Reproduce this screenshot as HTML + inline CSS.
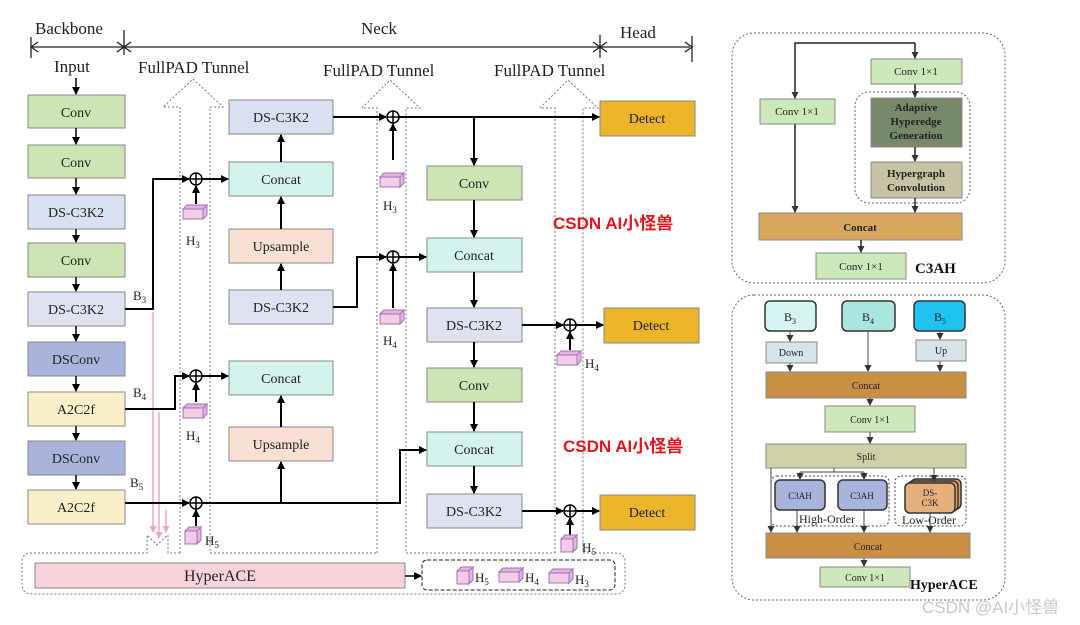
<!DOCTYPE html>
<html><head><meta charset="utf-8"><style>
html,body{margin:0;padding:0;background:#fff;}
svg{display:block;}
text{font-family:"Liberation Serif","Noto Serif CJK SC",serif;}
</style></head><body>
<svg width="1080" height="625" viewBox="0 0 1080 625" xmlns="http://www.w3.org/2000/svg">
<defs>
<marker id="a" markerWidth="8" markerHeight="8" refX="7" refY="4" orient="auto" markerUnits="userSpaceOnUse"><path d="M0,0 L8,4 L0,8 z" fill="#000"/></marker>
<marker id="g" markerWidth="7" markerHeight="7" refX="6" refY="3.5" orient="auto" markerUnits="userSpaceOnUse"><path d="M0,0 L7,3.5 L0,7 z" fill="#333"/></marker>
<marker id="p" markerWidth="7" markerHeight="7" refX="6" refY="3.5" orient="auto" markerUnits="userSpaceOnUse"><path d="M0,0 L7,3.5 L0,7 z" fill="#f4a6b8"/></marker>
<g id="cube"><rect x="0" y="4" width="20" height="10" fill="#f3cde6" stroke="#a070c0"/><path d="M0,4 L4,0 L24,0 L20,4 z M20,4 L24,0 L24,10 L20,14 z" fill="#e3b5dd" stroke="#a070c0"/></g>
<g id="cubes"><rect x="0" y="4" width="12" height="13" fill="#f3cde6" stroke="#a070c0"/><path d="M0,4 L4,0 L16,0 L12,4 z M12,4 L16,0 L16,13 L12,17 z" fill="#e3b5dd" stroke="#a070c0"/></g>
</defs>

<g font-size="17" fill="#222">
<text x="35" y="34">Backbone</text>
<text x="361" y="34">Neck</text>
<text x="620" y="38">Head</text>
<text x="54" y="72">Input</text>
<text x="138" y="73">FullPAD Tunnel</text>
<text x="323" y="76">FullPAD Tunnel</text>
<text x="494" y="76">FullPAD Tunnel</text>
</g>
<g stroke="#222" stroke-width="1.3" fill="none">
<line x1="31" y1="37" x2="31" y2="58"/><line x1="124" y1="30" x2="124" y2="55"/>
<line x1="31" y1="47" x2="690" y2="47"/>
<line x1="600" y1="35" x2="600" y2="58"/><line x1="692" y1="36" x2="692" y2="62"/>
<path d="M38,42 L31,47 L38,52 M117,42 L124,47 L117,52 M131,42 L124,47 L131,52 M593,42 L600,47 L593,52 M607,42 L600,47 L607,52 M685,42 L692,47 L685,52"/>
</g>

<g stroke="#777" stroke-width="1" stroke-dasharray="2,2" fill="none">
<path d="M180,553 L180,107 L163,107 L193,79 L223,107 L210,107 L210,553"/>
<path d="M377,553 L377,108 L362,108 L390,80 L420,108 L406,108 L406,553"/>
<path d="M555,553 L555,108 L540,108 L568,80 L598,108 L583,108 L583,553"/>
<path d="M210,553 L377,553 M406,553 L555,553"/>
<path d="M583,553 L615,553 Q625,553 625,562 L625,584 Q625,594 615,594 L32,594 Q22,594 22,584 L22,562 Q22,553 32,553 L147,553 L147,535 L157,545 L168,535 L168,553 L180,553"/>
</g>

<g stroke="#f4a6b8" stroke-width="1.5" marker-end="url(#p)">
<line x1="153" y1="312" x2="153" y2="532"/><line x1="159" y1="412" x2="159" y2="538"/><line x1="166" y1="510" x2="166" y2="532"/>
</g>

<g stroke="#888" stroke-width="1" font-size="14" text-anchor="middle" fill="#222">
<rect x="28" y="95" width="97" height="33" fill="#cde4b4"/><text x="76" y="117" fill="#222" stroke="none">Conv</text>
<rect x="28" y="145" width="97" height="33" fill="#cde4b4"/><text x="76" y="167" stroke="none">Conv</text>
<rect x="28" y="195" width="97" height="34" fill="#d9e0f1"/><text x="76" y="217" stroke="none">DS-C3K2</text>
<rect x="28" y="243" width="97" height="34" fill="#cde4b4"/><text x="76" y="265" stroke="none">Conv</text>
<rect x="28" y="292" width="97" height="34" fill="#dfe2f0"/><text x="76" y="314" stroke="none">DS-C3K2</text>
<rect x="28" y="342" width="97" height="34" fill="#a9b4dc"/><text x="76" y="364" stroke="none">DSConv</text>
<rect x="28" y="392" width="97" height="34" fill="#fbefc9"/><text x="76" y="414" stroke="none">A2C2f</text>
<rect x="28" y="441" width="97" height="34" fill="#a9b4dc"/><text x="76" y="463" stroke="none">DSConv</text>
<rect x="28" y="490" width="97" height="34" fill="#fbefc9"/><text x="76" y="512" stroke="none">A2C2f</text>

<rect x="229" y="100" width="104" height="34" fill="#d9e0f1"/><text x="281" y="122" stroke="none">DS-C3K2</text>
<rect x="229" y="162" width="104" height="34" fill="#d3f3ec"/><text x="281" y="184" stroke="none">Concat</text>
<rect x="229" y="229" width="104" height="34" fill="#fadfd5"/><text x="281" y="251" stroke="none">Upsample</text>
<rect x="229" y="290" width="104" height="34" fill="#dfe2f0"/><text x="281" y="312" stroke="none">DS-C3K2</text>
<rect x="229" y="361" width="104" height="34" fill="#d3f3ec"/><text x="281" y="383" stroke="none">Concat</text>
<rect x="229" y="427" width="104" height="34" fill="#fadfd5"/><text x="281" y="449" stroke="none">Upsample</text>

<rect x="427" y="166" width="95" height="34" fill="#cde4b4"/><text x="474" y="188" stroke="none">Conv</text>
<rect x="427" y="238" width="95" height="34" fill="#d3f3ec"/><text x="474" y="260" stroke="none">Concat</text>
<rect x="427" y="308" width="95" height="34" fill="#dfe2f0"/><text x="474" y="330" stroke="none">DS-C3K2</text>
<rect x="427" y="368" width="95" height="34" fill="#cde4b4"/><text x="474" y="390" stroke="none">Conv</text>
<rect x="427" y="432" width="95" height="34" fill="#d3f3ec"/><text x="474" y="454" stroke="none">Concat</text>
<rect x="427" y="494" width="95" height="34" fill="#dfe2f0"/><text x="474" y="516" stroke="none">DS-C3K2</text>

<rect x="600" y="101" width="95" height="35" fill="#ecb52a"/><text x="647" y="123" stroke="none">Detect</text>
<rect x="604" y="308" width="95" height="35" fill="#ecb52a"/><text x="651" y="330" stroke="none">Detect</text>
<rect x="600" y="495" width="95" height="35" fill="#ecb52a"/><text x="647" y="517" stroke="none">Detect</text>

<rect x="35" y="563" width="370" height="25" fill="#f8d3dc"/><text x="220" y="581" font-size="16" stroke="none">HyperACE</text>
</g>
<rect x="422" y="560" width="193" height="30" rx="5" fill="none" stroke="#222" stroke-dasharray="4,2"/>

<g stroke="#000" stroke-width="2" fill="none">
<g marker-end="url(#a)" stroke-width="1.5">
<line x1="76" y1="78" x2="76" y2="94"/><line x1="76" y1="128" x2="76" y2="144"/><line x1="76" y1="178" x2="76" y2="194"/>
<line x1="76" y1="229" x2="76" y2="242"/><line x1="76" y1="277" x2="76" y2="291"/><line x1="76" y1="326" x2="76" y2="341"/>
<line x1="76" y1="376" x2="76" y2="391"/><line x1="76" y1="426" x2="76" y2="440"/><line x1="76" y1="475" x2="76" y2="489"/>
</g>
<path d="M125,309 L153,309 L153,179 L189,179" marker-end="url(#a)"/>
<line x1="202" y1="179" x2="228" y2="179" marker-end="url(#a)"/>
<line x1="196" y1="204" x2="196" y2="186" marker-end="url(#a)"/>
<line x1="281" y1="162" x2="281" y2="135" marker-end="url(#a)"/>
<line x1="281" y1="229" x2="281" y2="197" marker-end="url(#a)"/>
<line x1="281" y1="290" x2="281" y2="264" marker-end="url(#a)"/>
<path d="M333,307 L357,307 L357,257 L386,257" marker-end="url(#a)"/>
<line x1="399" y1="257" x2="426" y2="257" marker-end="url(#a)"/>
<line x1="393" y1="308" x2="393" y2="264" marker-end="url(#a)"/>
<line x1="333" y1="117" x2="386" y2="117" marker-end="url(#a)"/>
<line x1="399" y1="117" x2="599" y2="117" marker-end="url(#a)"/>
<line x1="393" y1="160" x2="393" y2="124" marker-end="url(#a)"/>
<line x1="474" y1="117" x2="474" y2="165" marker-end="url(#a)"/>
<line x1="474" y1="200" x2="474" y2="237" marker-end="url(#a)"/>
<line x1="474" y1="272" x2="474" y2="307" marker-end="url(#a)"/>
<line x1="474" y1="342" x2="474" y2="367" marker-end="url(#a)"/>
<line x1="474" y1="402" x2="474" y2="431" marker-end="url(#a)"/>
<line x1="474" y1="466" x2="474" y2="493" marker-end="url(#a)"/>
<line x1="522" y1="325" x2="563" y2="325" marker-end="url(#a)"/>
<line x1="576" y1="325" x2="603" y2="325" marker-end="url(#a)"/>
<line x1="570" y1="350" x2="570" y2="332" marker-end="url(#a)"/>
<path d="M125,409 L175,409 L175,376 L189,376" marker-end="url(#a)"/>
<line x1="202" y1="376" x2="228" y2="376" marker-end="url(#a)"/>
<line x1="196" y1="402" x2="196" y2="383" marker-end="url(#a)"/>
<line x1="281" y1="427" x2="281" y2="396" marker-end="url(#a)"/>
<line x1="125" y1="503" x2="189" y2="503" marker-end="url(#a)"/>
<path d="M202,503 L400,503 L400,450 L426,450" marker-end="url(#a)"/>
<line x1="281" y1="503" x2="281" y2="462" marker-end="url(#a)"/>
<line x1="196" y1="526" x2="196" y2="510" marker-end="url(#a)"/>
<line x1="522" y1="511" x2="563" y2="511" marker-end="url(#a)"/>
<line x1="576" y1="511" x2="599" y2="511" marker-end="url(#a)"/>
<line x1="570" y1="535" x2="570" y2="518" marker-end="url(#a)"/>
<line x1="405" y1="576" x2="421" y2="576" stroke-width="1.5" marker-end="url(#a)"/>
</g>
<g fill="#fff" stroke="#000" stroke-width="1.5">
<circle cx="196" cy="179" r="6"/><circle cx="393" cy="117" r="6"/><circle cx="393" cy="257" r="6"/>
<circle cx="196" cy="376" r="6"/><circle cx="570" cy="325" r="6"/><circle cx="196" cy="503" r="6"/><circle cx="570" cy="511" r="6"/>
</g>
<g stroke="#000" stroke-width="1.5">
<path d="M190,179 h12 M196,173 v12 M387,117 h12 M393,111 v12 M387,257 h12 M393,251 v12 M190,376 h12 M196,370 v12 M564,325 h12 M570,319 v12 M190,503 h12 M196,497 v12 M564,511 h12 M570,505 v12"/>
</g>

<use href="#cube" x="183" y="205"/><use href="#cube" x="380" y="173"/><use href="#cube" x="380" y="310"/>
<use href="#cube" x="183" y="404"/><use href="#cube" x="557" y="351"/>
<use href="#cubes" x="185" y="527"/><use href="#cubes" x="561" y="535"/>
<use href="#cubes" x="457" y="567"/><use href="#cube" x="499" y="568"/><use href="#cube" x="549" y="569"/>
<g font-size="13" fill="#222">
<text x="186" y="245">H<tspan font-size="9" dy="3">3</tspan></text>
<text x="383" y="210">H<tspan font-size="9" dy="3">3</tspan></text>
<text x="383" y="345">H<tspan font-size="9" dy="3">4</tspan></text>
<text x="186" y="440">H<tspan font-size="9" dy="3">4</tspan></text>
<text x="585" y="368">H<tspan font-size="9" dy="3">4</tspan></text>
<text x="205" y="545">H<tspan font-size="9" dy="3">5</tspan></text>
<text x="582" y="552">H<tspan font-size="9" dy="3">5</tspan></text>
<text x="475" y="582">H<tspan font-size="9" dy="3">5</tspan></text>
<text x="525" y="582">H<tspan font-size="9" dy="3">4</tspan></text>
<text x="575" y="584">H<tspan font-size="9" dy="3">3</tspan></text>
<text x="133" y="300">B<tspan font-size="9" dy="3">3</tspan></text>
<text x="133" y="397">B<tspan font-size="9" dy="3">4</tspan></text>
<text x="130" y="487">B<tspan font-size="9" dy="3">5</tspan></text>
</g>

<g font-weight="bold" font-size="17" fill="#e8141c">
<text x="553" y="229" style="font-family:'Liberation Sans','Noto Sans CJK SC',sans-serif">CSDN AI小怪兽</text>
<text x="563" y="452" style="font-family:'Liberation Sans','Noto Sans CJK SC',sans-serif">CSDN AI小怪兽</text>
</g>

<rect x="732" y="33" width="273" height="250" rx="22" fill="none" stroke="#666" stroke-dasharray="2,2"/>
<rect x="855" y="92" width="115" height="111" rx="14" fill="none" stroke="#666" stroke-dasharray="2,2"/>
<g stroke="#888" text-anchor="middle" font-size="11" fill="#222">
<rect x="871" y="59" width="91" height="25" fill="#cde9bc"/><text x="916" y="75" stroke="none">Conv 1×1</text>
<rect x="760" y="99" width="75" height="25" fill="#cde9bc"/><text x="797" y="115" stroke="none">Conv 1×1</text>
<rect x="871" y="98" width="91" height="49" fill="#76896a"/>
<text x="916" y="111" stroke="none" font-weight="bold">Adaptive</text><text x="916" y="125" stroke="none" font-weight="bold">Hyperedge</text><text x="916" y="139" stroke="none" font-weight="bold">Generation</text>
<rect x="871" y="162" width="91" height="36" fill="#c9c3a5"/>
<text x="916" y="177" stroke="none" font-weight="bold">Hypergraph</text><text x="916" y="191" stroke="none" font-weight="bold">Convolution</text>
<rect x="759" y="213" width="203" height="27" fill="#d9a85f"/><text x="860" y="231" stroke="none" font-weight="bold">Concat</text>
<rect x="816" y="253" width="90" height="26" fill="#cde9bc"/><text x="861" y="270" stroke="none">Conv 1×1</text>
</g>
<text x="915" y="273" font-size="15" font-weight="bold" fill="#111">C3AH</text>
<g stroke="#222" stroke-width="1.5" fill="none" marker-end="url(#g)">
<path d="M915,43 L915,58"/><path d="M915,43 L795,43 L795,98"/>
<line x1="915" y1="84" x2="915" y2="97"/><line x1="915" y1="147" x2="915" y2="161"/>
<line x1="915" y1="198" x2="915" y2="212"/><line x1="795" y1="124" x2="795" y2="212"/>
<line x1="861" y1="240" x2="861" y2="252"/>
</g>

<rect x="732" y="295" width="273" height="305" rx="22" fill="none" stroke="#666" stroke-dasharray="2,2"/>
<g stroke="#333" stroke-width="1.5" text-anchor="middle" font-size="12" fill="#222">
<rect x="765" y="301" width="51" height="30" rx="5" fill="#d6f4f2"/><text x="790" y="321" stroke="none">B<tspan font-size="8" dy="3">3</tspan></text>
<rect x="842" y="301" width="53" height="30" rx="5" fill="#a9e6e0"/><text x="868" y="321" stroke="none">B<tspan font-size="8" dy="3">4</tspan></text>
<rect x="914" y="301" width="51" height="30" rx="5" fill="#1ec3f0"/><text x="940" y="321" stroke="none">B<tspan font-size="8" dy="3">5</tspan></text>
</g>
<g stroke="#888" text-anchor="middle" font-size="10" fill="#222">
<rect x="766" y="342" width="51" height="21" fill="#d6e3e8"/><text x="791" y="356" stroke="none">Down</text>
<rect x="916" y="340" width="50" height="21" fill="#d6e3e8"/><text x="941" y="354" stroke="none">Up</text>
<rect x="766" y="372" width="200" height="26" fill="#c98f45"/><text x="866" y="389" stroke="none">Concat</text>
<rect x="825" y="406" width="90" height="26" fill="#cde9bc"/><text x="870" y="423" stroke="none">Conv 1×1</text>
<rect x="766" y="444" width="200" height="24" fill="#d0d0a8"/><text x="866" y="460" stroke="none">Split</text>
<rect x="766" y="533" width="204" height="25" fill="#c98f45"/><text x="868" y="550" stroke="none">Concat</text>
<rect x="820" y="567" width="90" height="20" fill="#cde9bc"/><text x="865" y="581" stroke="none">Conv 1×1</text>
</g>
<rect x="771" y="476" width="118" height="50" rx="6" fill="none" stroke="#444" stroke-dasharray="2,2"/>
<rect x="895" y="476" width="71" height="50" rx="6" fill="none" stroke="#444" stroke-dasharray="2,2"/>
<g stroke="#333" stroke-width="1.5">
<rect x="775" y="480" width="50" height="30" rx="5" fill="#a9b4dc"/>
<rect x="838" y="480" width="49" height="30" rx="5" fill="#a9b4dc"/>
<rect x="911" y="479" width="50" height="30" rx="5" fill="#e0a060"/>
<rect x="908" y="481" width="50" height="30" rx="5" fill="#e0a060"/>
<rect x="905" y="483" width="50" height="30" rx="5" fill="#e6b07c"/>
</g>
<g font-size="9" text-anchor="middle" fill="#222">
<text x="800" y="499">C3AH</text><text x="862" y="499">C3AH</text>
<text x="930" y="496">DS-</text><text x="930" y="506">C3K</text>
</g>
<text x="799" y="523" font-size="12" fill="#222">High-Order</text>
<text x="902" y="524" font-size="12" fill="#222">Low-Order</text>
<text x="910" y="589" font-size="14" font-weight="bold" fill="#111">HyperACE</text>
<g stroke="#444" stroke-width="1" fill="none" marker-end="url(#g)">
<line x1="790" y1="331" x2="790" y2="341"/><line x1="940" y1="331" x2="940" y2="339"/>
<line x1="790" y1="363" x2="790" y2="371"/><line x1="940" y1="361" x2="940" y2="371"/>
<line x1="868" y1="331" x2="868" y2="371"/><line x1="870" y1="398" x2="870" y2="405"/>
<line x1="870" y1="432" x2="870" y2="443"/>
<path d="M800,472 L800,479"/><path d="M864,472 L864,479"/><path d="M934,468 L934,481"/>
<line x1="771" y1="468" x2="771" y2="532"/><line x1="797" y1="510" x2="797" y2="532"/>
<line x1="864" y1="510" x2="864" y2="532"/><line x1="930" y1="513" x2="930" y2="532"/>
<line x1="864" y1="558" x2="864" y2="566"/>
</g>
<line x1="800" y1="472" x2="864" y2="472" stroke="#444"/><line x1="834" y1="468" x2="834" y2="472" stroke="#444"/>

<text x="922" y="613" font-size="17" fill="#c8c8c8" style="font-family:'Liberation Sans','Noto Sans CJK SC',sans-serif">CSDN @AI小怪兽</text>
</svg>
</body></html>
